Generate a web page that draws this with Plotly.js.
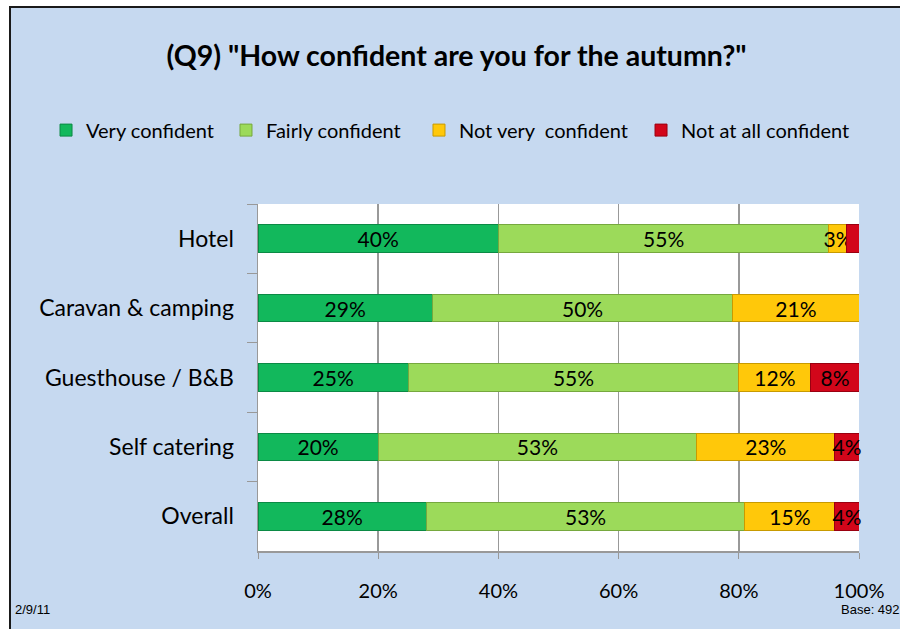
<!DOCTYPE html>
<html>
<head>
<meta charset="utf-8">
<script src="https://cdn.plot.ly/plotly-3.0.1.min.js"></script>
<style>
  html, body { margin: 0; padding: 0; background: #ffffff; width: 900px; height: 629px; overflow: hidden; }
  #frame { position: absolute; left: 9px; top: 6px; width: 891px; height: 623px;
           border-left: 2px solid #1a1a1a; border-top: 2px solid #1a1a1a; }
  #chart { width: 891px; height: 623px; }
</style>
</head>
<body>
<div id="frame"><div id="chart"></div></div>
<script>
const categories = ["Hotel", "Caravan & camping", "Guesthouse / B&B", "Self catering", "Overall"];
const seriesNames = ["Very confident", "Fairly confident", "Not very  confident", "Not at all confident"];
const veryConfident = [40, 29, 25, 20, 28];
const fairlyConfident = [55, 50, 55, 53, 53];
const notVeryConfident = [3, 21, 12, 23, 15];
const notAtAllConfident = [2, 0, 8, 4, 4];
const xTickVals = [0, 20, 40, 60, 80, 100];
const xTickText = ["0%", "20%", "40%", "60%", "80%", "100%"];

const fills = ["#12B85C", "#9CDA5A", "#FFC80A", "#D2061A"];
const edges = ["#0B8A45", "#76A83E", "#C89A00", "#9A0010"];
const seriesValues = [veryConfident, fairlyConfident, notVeryConfident, notAtAllConfident];
const legendIds = ["legend", "legend2", "legend3", "legend4"];
const legendX = [0.0393, 0.2413, 0.4579, 0.7071];
const FONT = "Lato, 'Open Sans', sans-serif";

const traces = seriesValues.map((vals, i) => ({
  type: "bar",
  orientation: "h",
  name: seriesNames[i],
  legend: legendIds[i],
  y: categories,
  x: vals,
  text: vals.map(v => v >= 3 ? v + "%" : ""),
  textposition: "inside",
  insidetextanchor: "middle",
  textangle: 0,
  constraintext: "none",
  cliponaxis: false,
  textfont: { family: FONT, size: 21, color: "#000000" },
  hoverinfo: "name+x",
  marker: { color: fills[i], line: { color: edges[i], width: 1 } }
}));

const layout = {
  width: 891,
  height: 623,
  autosize: false,
  paper_bgcolor: "#C6D9F0",
  plot_bgcolor: "#FFFFFF",
  barmode: "stack",
  bargap: 0.6,
  uniformtext: { mode: "show", minsize: 21 },
  margin: { l: 247, r: 43, t: 196, b: 80, autoexpand: false },
  title: {
    text: "<b>(Q9) \"How confident are you for the autumn?\"</b>",
    font: { family: FONT, size: 28.5, color: "#000000" },
    x: 0.5, xanchor: "center", xref: "container",
    y: 0.923, yanchor: "middle", yref: "container"
  },
  showlegend: true,
  xaxis: {
    range: [0, 100],
    tickvals: xTickVals,
    ticktext: xTickText,
    tickangle: 0,
    showgrid: true,
    gridcolor: "#999999",
    gridwidth: 1.5,
    showline: true,
    linecolor: "#999999",
    linewidth: 1.5,
    ticks: "outside",
    ticklen: 6,
    tickcolor: "#999999",
    tickfont: { family: FONT, size: 20, color: "#000000" },
    ticklabelstandoff: 15,
    zeroline: false,
    fixedrange: true
  },
  yaxis: {
    type: "category",
    categoryorder: "array",
    categoryarray: categories,
    autorange: "reversed",
    showgrid: false,
    showline: true,
    linecolor: "#999999",
    linewidth: 1.5,
    ticks: "outside",
    tickson: "boundaries",
    ticklen: 10,
    tickcolor: "#999999",
    tickfont: { family: FONT, size: 23, color: "#000000" },
    ticklabelstandoff: 18,
    fixedrange: true
  },
  annotations: [
    { text: "2/9/11", xref: "paper", yref: "paper", x: -0.408, y: -0.17, xanchor: "left", yanchor: "middle",
      showarrow: false, font: { family: "'Liberation Sans Narrow', Arial, 'Liberation Sans', sans-serif", size: 13, color: "#000000" } },
    { text: "Base: 492", xref: "paper", yref: "paper", x: 1.071, y: -0.17, xanchor: "right", yanchor: "middle",
      showarrow: false, font: { family: "'Liberation Sans Narrow', Arial, 'Liberation Sans', sans-serif", size: 13, color: "#000000" } }
  ]
};

legendIds.forEach((id, i) => {
  layout[id] = {
    orientation: "h",
    xref: "container", yref: "container",
    x: legendX[i], xanchor: "left",
    y: 0.804, yanchor: "middle",
    font: { family: FONT, size: 20, color: "#000000" },
    itemwidth: 30,
    bgcolor: "rgba(0,0,0,0)"
  };
});

Plotly.newPlot("chart", traces, layout, { displayModeBar: false, staticPlot: true });
</script>
</body>
</html>
